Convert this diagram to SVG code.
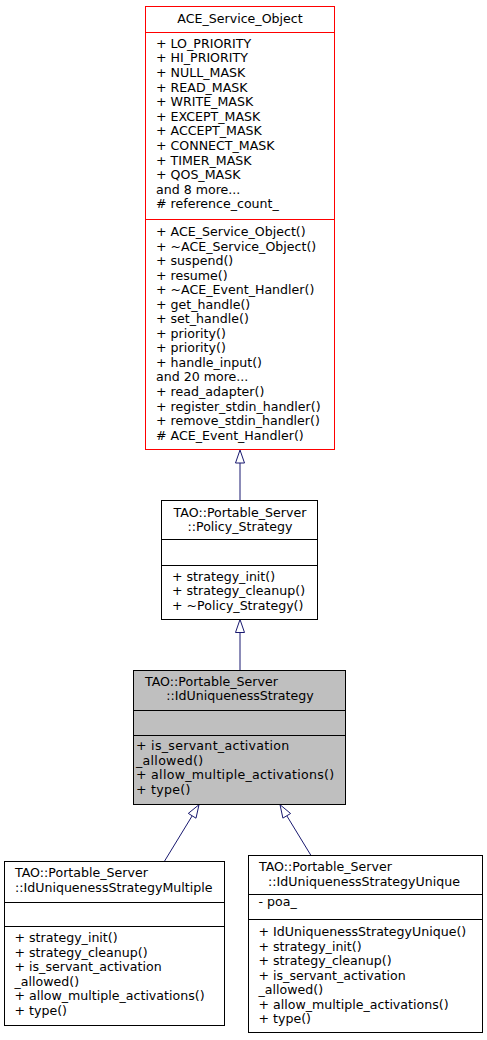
<svg xmlns="http://www.w3.org/2000/svg" width="487" height="1040" viewBox="0 0 487 1040">
<style>
text{font-family:"DejaVu Sans","Liberation Sans",sans-serif;font-size:12.6px;fill:#000}
.m{text-anchor:middle}
.w{letter-spacing:0.28px}
.box{fill:#fff;stroke:#000;stroke-width:1}
.red{fill:#fff;stroke:#ff0000;stroke-width:1}
.hl{fill:#bfbfbf;stroke:#000;stroke-width:1}
.sep{stroke:#000;stroke-width:1}
.sepr{stroke:#ff0000;stroke-width:1}
.edge{stroke:#191970;stroke-width:1;fill:none}
.head{fill:#fff;stroke:#191970;stroke-width:1}
</style>
<rect width="487" height="1040" fill="#fff"/>
<g id="connectors">
<line class="edge" x1="240" y1="463" x2="240" y2="500"/>
<polygon class="head" points="240,450 235.5,463 244.5,463"/>
<line class="edge" x1="240" y1="632.5" x2="240" y2="670.5"/>
<polygon class="head" points="240,619.5 235.5,632.5 244.5,632.5"/>
<line class="edge" x1="164.3" y1="861.5" x2="192.2" y2="815.8"/>
<polygon class="head" points="199,804.7 188.3,813.4 196,818.2"/>
<line class="edge" x1="311" y1="855.5" x2="286.8" y2="815.8"/>
<polygon class="head" points="280,804.7 290.6,813.5 282.9,818.1"/>
</g>
<g id="ACE_Service_Object">
<rect class="red" x="145.5" y="6.5" width="189" height="443"/>
<line class="sepr" x1="145.5" y1="32.5" x2="334.5" y2="32.5"/>
<line class="sepr" x1="145.5" y1="219.5" x2="334.5" y2="219.5"/>
<text class="m" x="240" y="22.7">ACE_Service_Object</text>
<text x="156" y="47.7">+ LO_PRIORITY</text>
<text x="156" y="62.3">+ HI_PRIORITY</text>
<text x="156" y="76.9">+ NULL_MASK</text>
<text x="156" y="91.5">+ READ_MASK</text>
<text x="156" y="106.1">+ WRITE_MASK</text>
<text x="156" y="120.7">+ EXCEPT_MASK</text>
<text x="156" y="135.3">+ ACCEPT_MASK</text>
<text x="156" y="149.9">+ CONNECT_MASK</text>
<text x="156" y="164.5">+ TIMER_MASK</text>
<text x="156" y="179.1">+ QOS_MASK</text>
<text x="156" y="193.7">and 8 more...</text>
<text x="156" y="208.3"># reference_count_</text>
<text x="156" y="236">+ ACE_Service_Object()</text>
<text x="156" y="250.5">+ ~ACE_Service_Object()</text>
<text x="156" y="265.1">+ suspend()</text>
<text x="156" y="279.6">+ resume()</text>
<text x="156" y="294.2">+ ~ACE_Event_Handler()</text>
<text x="156" y="308.7">+ get_handle()</text>
<text x="156" y="323.2">+ set_handle()</text>
<text x="156" y="337.8">+ priority()</text>
<text x="156" y="352.3">+ priority()</text>
<text x="156" y="366.9">+ handle_input()</text>
<text x="156" y="381.4">and 20 more...</text>
<text x="156" y="395.9">+ read_adapter()</text>
<text x="156" y="410.5">+ register_stdin_handler()</text>
<text x="156" y="425">+ remove_stdin_handler()</text>
<text x="156" y="439.5"># ACE_Event_Handler()</text>
</g>
<g id="Policy_Strategy">
<rect class="box" x="161.5" y="500.5" width="156" height="119"/>
<line class="sep" x1="161.5" y1="539.5" x2="317.5" y2="539.5"/>
<line class="sep" x1="161.5" y1="565.5" x2="317.5" y2="565.5"/>
<text class="m" x="240" y="516.6">TAO::Portable_Server</text>
<text class="m" x="240" y="531.2">::Policy_Strategy</text>
<text x="172" y="580.9">+ strategy_init()</text>
<text x="172" y="595.4">+ strategy_cleanup()</text>
<text x="172" y="609.9">+ ~Policy_Strategy()</text>
</g>
<g id="IdUniquenessStrategy">
<rect class="hl" x="133.5" y="670.5" width="212" height="134"/>
<line class="sep" x1="133.5" y1="710.5" x2="345.5" y2="710.5"/>
<line class="sep" x1="133.5" y1="735.5" x2="345.5" y2="735.5"/>
<text x="145" y="685.7">TAO::Portable_Server</text>
<text class="m" x="240" y="700.3">::IdUniquenessStrategy</text>
<text class="w" x="136" y="750.3">+ is_servant_activation</text>
<text class="w" x="136" y="764.8">_allowed()</text>
<text class="w" x="136" y="779.3">+ allow_multiple_activations()</text>
<text class="w" x="136" y="793.8">+ type()</text>
</g>
<g id="IdUniquenessStrategyMultiple">
<rect class="box" x="4.5" y="861.5" width="220" height="164"/>
<line class="sep" x1="4.5" y1="902.5" x2="224.5" y2="902.5"/>
<line class="sep" x1="4.5" y1="926.5" x2="224.5" y2="926.5"/>
<text x="15" y="877">TAO::Portable_Server</text>
<text x="15" y="891.6">::IdUniquenessStrategyMultiple</text>
<text x="14.5" y="942">+ strategy_init()</text>
<text x="14.5" y="956.5">+ strategy_cleanup()</text>
<text x="14.5" y="971">+ is_servant_activation</text>
<text x="14.5" y="985.5">_allowed()</text>
<text x="14.5" y="1000">+ allow_multiple_activations()</text>
<text x="14.5" y="1014.5">+ type()</text>
</g>
<g id="IdUniquenessStrategyUnique">
<rect class="box" x="248.5" y="855.5" width="234" height="177"/>
<line class="sep" x1="248.5" y1="894.5" x2="482.5" y2="894.5"/>
<line class="sep" x1="248.5" y1="919.5" x2="482.5" y2="919.5"/>
<text x="259" y="871">TAO::Portable_Server</text>
<text class="m" x="364" y="885.6">::IdUniquenessStrategyUnique</text>
<text x="258.5" y="906">- poa_</text>
<text x="258.5" y="936">+ IdUniquenessStrategyUnique()</text>
<text x="258.5" y="950.5">+ strategy_init()</text>
<text x="258.5" y="965">+ strategy_cleanup()</text>
<text x="258.5" y="979.5">+ is_servant_activation</text>
<text x="258.5" y="994">_allowed()</text>
<text x="258.5" y="1008.5">+ allow_multiple_activations()</text>
<text x="258.5" y="1023">+ type()</text>
</g>
</svg>
